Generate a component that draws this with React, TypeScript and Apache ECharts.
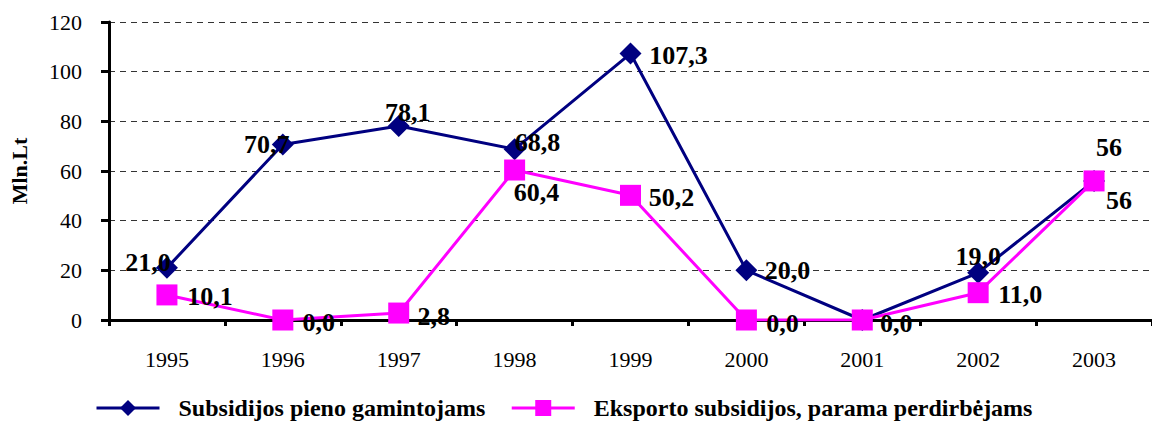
import React, { useEffect, useRef } from "react";
import * as echarts from "echarts";

const years = ["1995", "1996", "1997", "1998", "1999", "2000", "2001", "2002", "2003"];
const milkProducers = [21.0, 70.7, 78.1, 68.8, 107.3, 20.0, 0.0, 19.0, 56];
const exportSubsidies = [10.1, 0.0, 2.8, 60.4, 50.2, 0.0, 0.0, 11.0, 56];
const labelDecimals = [1, 1, 1, 1, 1, 1, 1, 1, 0];
const seriesNames = ["Subsidijos pieno gamintojams", "Eksporto subsidijos, parama perdirbėjams"];

const navyOffsets: [number, number][] = [
  [-19, -5], [-16, 0], [9, -14], [23, -7], [48, 2], [41, 0], [0, 0], [0, -16], [15, -33],
];
const pinkOffsets: [number, number][] = [
  [43, 2], [36, 2], [35, 3], [22, 22], [41, 2], [36, 3], [34, 3], [42, 2], [25, 20],
];

const fmt = (v: number, i: number) => v.toFixed(labelDecimals[i]).replace(".", ",");

export default function App() {
  const ref = useRef<HTMLDivElement>(null);
  useEffect(() => {
    const chart = echarts.init(ref.current!, null, { renderer: "svg" });
    const labelStyle = {
      show: true,
      position: "inside" as const,
      fontFamily: "Liberation Serif",
      fontWeight: "bold" as const,
      fontSize: 26,
      color: "#000",
    };
    chart.setOption({
      animation: false,
      backgroundColor: "#fff",
      grid: { left: 105, right: -8, top: 22, bottom: 101 },
      legend: {
        top: 391,
        left: 90,
        itemWidth: 63,
        itemHeight: 20,
        itemGap: 25,
        lineStyle: { width: 3 },
        textStyle: {
          fontFamily: "Liberation Serif",
          fontWeight: "bold",
          fontSize: 24,
          color: "#000",
          padding: [0, 0, 0, 14],
        },
        data: seriesNames,
      },
      xAxis: {
        type: "category",
        data: years,
        boundaryGap: true,
        axisLine: { lineStyle: { color: "#000", width: 3 } },
        axisTick: { show: true, length: 6, lineStyle: { color: "#000", width: 3 } },
        axisLabel: { fontFamily: "Liberation Serif", fontSize: 22, color: "#000", margin: 28 },
      },
      yAxis: {
        type: "value",
        min: 0,
        max: 120,
        interval: 20,
        name: "Mln.Lt",
        nameLocation: "middle",
        nameGap: 79,
        nameTextStyle: { fontFamily: "Liberation Serif", fontWeight: "bold", fontSize: 22, color: "#000" },
        axisLine: { show: true, lineStyle: { color: "#000", width: 3 } },
        axisTick: { show: true, length: 8, lineStyle: { color: "#000", width: 3 } },
        axisLabel: { fontFamily: "Liberation Serif", fontSize: 22, color: "#000", margin: 27 },
        splitLine: { lineStyle: { color: "#333", type: [6, 5], width: 1 } },
      },
      series: [
        {
          name: seriesNames[0],
          type: "line",
          data: milkProducers.map((v, i) => ({
            value: v,
            label: { ...labelStyle, show: i !== 6, offset: navyOffsets[i], formatter: () => fmt(v, i) },
          })),
          symbol: "diamond",
          symbolSize: 22,
          lineStyle: { color: "#000080", width: 3 },
          itemStyle: { color: "#000080" },
          z: 2,
        },
        {
          name: seriesNames[1],
          type: "line",
          data: exportSubsidies.map((v, i) => ({
            value: v,
            label: { ...labelStyle, offset: pinkOffsets[i], formatter: () => fmt(v, i) },
          })),
          symbol: "rect",
          symbolSize: 21,
          lineStyle: { color: "#ff00ff", width: 3 },
          itemStyle: { color: "#ff00ff" },
          z: 3,
        },
      ],
    });
    return () => chart.dispose();
  }, []);
  return <div ref={ref} style={{ position: "absolute", left: 0, top: 0, width: 1152, height: 421 }} />;
}
